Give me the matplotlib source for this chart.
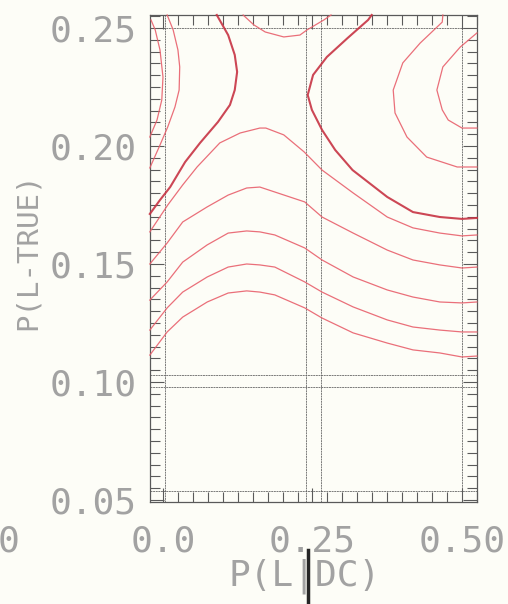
import matplotlib
matplotlib.use("Agg")
import matplotlib.pyplot as plt
from matplotlib.lines import Line2D
from matplotlib.ticker import MultipleLocator

# contour lines, (P(L|DC), P(L-TRUE))
c1_x = [-0.020, -0.013, -0.005, 0.000, -0.002, -0.010, -0.022]
c1_y = [0.2534, 0.2492, 0.2407, 0.2292, 0.2195, 0.2110, 0.2038]

c2_x = [0.007, 0.017, 0.025, 0.028, 0.027, 0.020, 0.008, -0.005, -0.022]
c2_y = [0.2555, 0.2492, 0.2407, 0.2335, 0.2237, 0.2165, 0.2081, 0.2004, 0.1907]

# saddle level (heavier pen), left branch
c3_x = [0.090, 0.109, 0.120, 0.124, 0.120, 0.112, 0.092, 0.062, 0.037, 0.012, -0.005, -0.022]
c3_y = [0.2555, 0.2470, 0.2386, 0.2314, 0.2237, 0.2174, 0.2102, 0.2013, 0.1932, 0.1826, 0.1771, 0.1712]

c4_x = [-0.022, 0.008, 0.033, 0.057, 0.095, 0.129, 0.162, 0.172, 0.202, 0.236, 0.266,
        0.318, 0.375, 0.418, 0.463, 0.500, 0.525]
c4_y = [0.1636, 0.1750, 0.1835, 0.1911, 0.2013, 0.2055, 0.2076, 0.2076, 0.2047, 0.1975, 0.1898,
        0.1801, 0.1699, 0.1653, 0.1631, 0.1619, 0.1623]

hump_x = [-0.022, 0.007, 0.033, 0.074, 0.109, 0.140, 0.162, 0.187, 0.237, 0.266,
          0.318, 0.375, 0.418, 0.463, 0.500, 0.525]
c5_y = [0.1500, 0.1589, 0.1678, 0.1742, 0.1792, 0.1822, 0.1826, 0.1805, 0.1763, 0.1699,
        0.1631, 0.1559, 0.1517, 0.1496, 0.1483, 0.1487]
c6_y = [0.1347, 0.1424, 0.1508, 0.1581, 0.1631, 0.1640, 0.1636, 0.1623, 0.1568, 0.1517,
        0.1445, 0.1390, 0.1360, 0.1339, 0.1335, 0.1339]
c7_y = [0.1220, 0.1314, 0.1381, 0.1445, 0.1487, 0.1500, 0.1496, 0.1487, 0.1424, 0.1381,
        0.1318, 0.1263, 0.1233, 0.1220, 0.1212, 0.1212]
c8_y = [0.1114, 0.1212, 0.1275, 0.1339, 0.1377, 0.1386, 0.1381, 0.1369, 0.1314, 0.1271,
        0.1208, 0.1165, 0.1136, 0.1123, 0.1106, 0.1110]

c9_x = [0.134, 0.152, 0.171, 0.202, 0.229, 0.241, 0.269, 0.281]
c9_y = [0.2555, 0.2513, 0.2483, 0.2462, 0.2470, 0.2492, 0.2534, 0.2555]

# saddle level, right branch
c10_x = [0.349, 0.343, 0.309, 0.274, 0.251, 0.242, 0.249, 0.266, 0.288, 0.317,
         0.375, 0.418, 0.463, 0.500, 0.525]
c10_y = [0.2555, 0.2534, 0.2458, 0.2377, 0.2301, 0.2216, 0.2153, 0.2068, 0.1983, 0.1898,
         0.1784, 0.1720, 0.1699, 0.1691, 0.1695]

c11_x = [0.468, 0.467, 0.430, 0.401, 0.385, 0.388, 0.408, 0.441, 0.492, 0.525]
c11_y = [0.2555, 0.2525, 0.2436, 0.2352, 0.2237, 0.2140, 0.2038, 0.1953, 0.1911, 0.1911]

c12_x = [0.525, 0.497, 0.468, 0.458, 0.467, 0.477, 0.500, 0.525]
c12_y = [0.2479, 0.2419, 0.2335, 0.2237, 0.2153, 0.2110, 0.2076, 0.2076]

x_ticks = [0.0, 0.25, 0.50]
x_labels = ["0.0", "0.25", "0.50"]
y_ticks = [0.05, 0.10, 0.15, 0.20, 0.25]
y_labels = ["0.05", "0.10", "0.15", "0.20", "0.25"]

paper = "#fdfdf7"
ink = "#a2a2a2"
frame = "#5a5a5a"
thin_red = "#e8606c"
thick_red = "#c73343"
mono = "DejaVu Sans Mono"

fig = plt.figure(figsize=(5.08, 6.04), dpi=100, facecolor=paper)
W, H = 508, 604
ax = fig.add_axes([150 / W, 1 - 502 / H, 327 / W, 487 / H], facecolor=paper)
ax.set_xlim(-0.0217, 0.5251)
ax.set_ylim(0.04915, 0.2555)

thin = [(c1_x, c1_y), (c2_x, c2_y), (c4_x, c4_y), (hump_x, c5_y), (hump_x, c6_y),
        (hump_x, c7_y), (hump_x, c8_y), (c9_x, c9_y), (c11_x, c11_y), (c12_x, c12_y)]
for xs, ys in thin:
    ax.plot(xs, ys, color=thin_red, lw=0.9, alpha=0.9, clip_on=False, zorder=3)
for xs, ys in [(c3_x, c3_y), (c10_x, c10_y)]:
    ax.plot(xs, ys, color=thick_red, lw=1.5, alpha=0.9, clip_on=False, zorder=3)

# second (inner) border and the doubled grid lines of the old plotter
dot = (0, (2, 0.7))
for xv in [0.003, 0.500, 0.239, 0.264]:
    ax.axvline(xv, color=frame, lw=0.7, ls=dot, alpha=0.8)
for yv in [0.25, 0.0538, 0.1030, 0.0979]:
    ax.axhline(yv, color=frame, lw=0.7, ls=dot, alpha=0.8)

for s in ax.spines.values():
    s.set_color(frame)
    s.set_linewidth(0.9)

ax.set_xticks(x_ticks)
ax.set_xticklabels(x_labels)
ax.set_yticks(y_ticks)
ax.set_yticklabels(y_labels)
ax.xaxis.set_minor_locator(MultipleLocator(0.025))
ax.yaxis.set_minor_locator(MultipleLocator(0.005))
ax.tick_params(which="both", direction="in", top=True, right=True, color=frame, width=0.8)
ax.tick_params(which="major", length=10)
ax.tick_params(which="minor", length=7)
ax.tick_params(axis="x", which="major", pad=16.5)
ax.tick_params(axis="y", which="major", pad=9.4)
for lab in ax.get_xticklabels() + ax.get_yticklabels():
    lab.set_fontfamily(mono)
    lab.set_fontsize(26)
    lab.set_color(ink)

ax.set_xlabel("P(L|DC)", fontfamily=mono, fontsize=26, color=ink)
ax.xaxis.set_label_coords(0.474, -0.117)
ax.set_ylabel("P(L-TRUE)", fontfamily=mono, fontsize=21, color=ink)
ax.yaxis.set_label_coords(-0.33, 0.515)

# stray pen stroke through the x label and a cut-off label at the left edge
fig.add_artist(Line2D([308 / W, 308 / W], [1 - 550 / H, 1 - 602 / H], color="#262626", lw=2.5))
fig.text(19 / W, 1 - 541 / H, "0", ha="right", va="center", fontfamily=mono, fontsize=26, color=ink)

fig.savefig("out.png", dpi=100, facecolor=paper)
